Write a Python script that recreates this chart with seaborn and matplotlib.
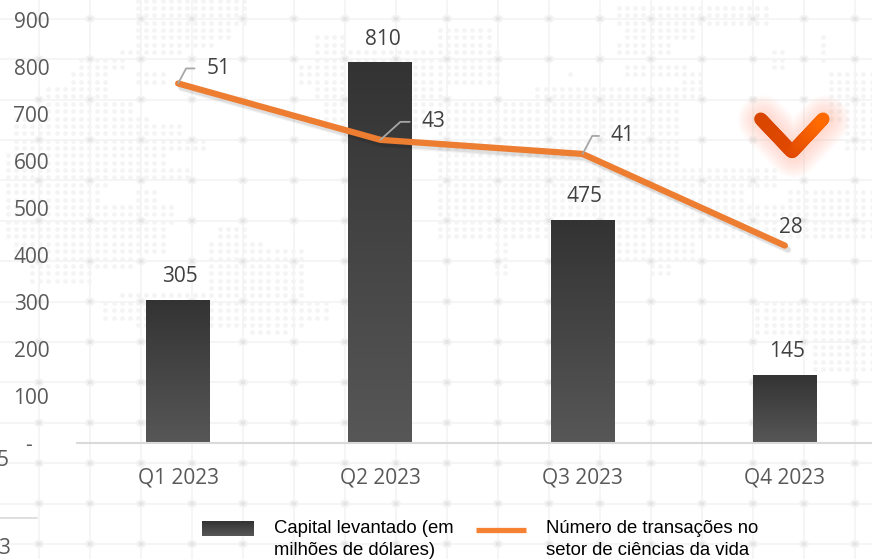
# plot.py  Capital levantado vs numero de transacoes, ciencias da vida 2023

import numpy as np
import pandas as pd
import matplotlib
matplotlib.use('Agg')
import matplotlib.pyplot as plt
import matplotlib.patheffects as pe
from matplotlib.collections import LineCollection
from matplotlib.colors import LinearSegmentedColormap
from matplotlib.lines import Line2D
from matplotlib.patches import Ellipse, Patch
import seaborn as sns

# chart data
quarters = ['Q1 2023', 'Q2 2023', 'Q3 2023', 'Q4 2023']
capital = [305, 810, 475, 145]
deals = [51, 43, 41, 28]
y_ticks = [0, 100, 200, 300, 400, 500, 600, 700, 800, 900]
y_labels = ['-   ', '100', '200', '300', '400', '500', '600', '700', '800', '900']
legend_labels = ['Capital levantado (em\nmilhões de dólares)',
                 'Número de transações no\nsetor de ciências da vida']

# background map, in pixels: x0, x1, y0, y1 blocks of dots
map_blocks = [
    (138, 250, 0, 25), (130, 230, 25, 40), (135, 215, 40, 50), (115, 180, 50, 58),
    (80, 125, 58, 72), (65, 110, 72, 85), (130, 165, 72, 85), (48, 110, 85, 97),
    (130, 145, 97, 102), (48, 135, 102, 112), (15, 150, 112, 125), (15, 180, 125, 140),
    (15, 205, 140, 150), (0, 165, 150, 165), (0, 195, 165, 180), (0, 110, 180, 190),
    (135, 160, 190, 200), (0, 100, 190, 205), (0, 175, 205, 225), (0, 170, 225, 240),
    (10, 165, 240, 255), (25, 130, 255, 270), (25, 90, 270, 285), (215, 250, 225, 240),
    (210, 265, 240, 250), (210, 305, 250, 290), (120, 305, 290, 300), (100, 330, 300, 312),
    (105, 330, 312, 320), (130, 305, 320, 327), (250, 290, 328, 335),
    (315, 345, 35, 45), (310, 440, 45, 60), (300, 440, 60, 85), (315, 440, 85, 100),
    (322, 440, 100, 130), (432, 495, 25, 50), (432, 500, 50, 70), (432, 500, 70, 85),
    (535, 680, 82, 100), (432, 680, 100, 165), (432, 745, 165, 200), (432, 775, 200, 230),
    (432, 820, 200, 225), (432, 850, 228, 240), (615, 700, 240, 262), (650, 670, 262, 275),
    (490, 510, 240, 275), (570, 630, 255, 265), (640, 690, 18, 40), (615, 770, 5, 25),
    (620, 700, 28, 40), (615, 670, 40, 55), (565, 575, 70, 80), (620, 690, 60, 80),
    (680, 705, 70, 100), (740, 780, 170, 185), (790, 872, 190, 240), (785, 872, 228, 240),
    (750, 872, 300, 335), (810, 872, 335, 370), (830, 872, 70, 125), (770, 790, 50, 70),
    (815, 830, 35, 60), (840, 872, 125, 150),
]

sns.set_theme(style='white')
plt.rcParams['font.family'] = ['Open Sans', 'DejaVu Sans']

fig = plt.figure(figsize=(8.72, 5.59), dpi=100)
fig.patch.set_facecolor('white')

# background layer, drawn in pixel coordinates
bg = fig.add_axes([0, 0, 1, 1], zorder=0)
bg.set_xlim(0, 872)
bg.set_ylim(559, 0)
bg.axis('off')

grid_x = np.arange(39, 872, 51)
grid_y = np.arange(18.8, 559, 40.4)
for gx in grid_x:
    bg.axvline(gx, color='#f3f3f3', lw=1.2, zorder=1)
for gy in grid_y:
    bg.axhline(gy, color='#f3f3f3', lw=1.2, zorder=1)
for gx in grid_x:
    for gy in grid_y:
        bg.add_patch(Ellipse((gx, gy), 10, 8, color='#f3f3f3', lw=0, zorder=3))
        bg.add_patch(Ellipse((gx, gy), 5, 4, color='#e4e4e4', lw=0, zorder=3))

lat_x = np.arange(0, 125) * 8.15 - 0.5
lat_y = np.arange(0, 60) * 7.37 + 0.6
dots = set()
for x0, x1, y0, y1 in map_blocks:
    for i, px in enumerate(lat_x):
        for j, py in enumerate(lat_y):
            if x0 <= px <= x1 and y0 <= py <= y1:
                dots.add((i, j))
dots = sorted(dots)
bg.scatter([lat_x[i] for i, j in dots], [lat_y[j] for i, j in dots],
           s=11, color='#f4f4f4', lw=0, zorder=2)

# bars
df = pd.DataFrame({'trimestre': quarters, 'capital': capital, 'transacoes': deals})

ax = fig.add_axes([77 / 872, 116 / 559, 809 / 872, 423 / 559], zorder=1)
ax.patch.set_alpha(0)
sns.barplot(data=df, x='trimestre', y='capital', width=0.316, color='#444444',
            saturation=1, ax=ax)
ax.set_xlim(-0.5, 3.5)
ax.set_ylim(0, 900)

grey_bar = LinearSegmentedColormap.from_list('grey_bar', ['#333333', '#575757'])
gradient = np.linspace(0, 1, 256).reshape(-1, 1)
for bar in ax.containers[0]:
    im = ax.imshow(gradient, cmap=grey_bar, aspect='auto', zorder=2,
                   extent=[bar.get_x(), bar.get_x() + bar.get_width(), 0, bar.get_height()])
    im.set_clip_path(bar)
    bar.set_alpha(0)
ax.set_xlim(-0.5, 3.5)
ax.set_ylim(0, 900)

labels = ax.bar_label(ax.containers[0], padding=9, fontsize=15, color='#404040')
for lab in labels:
    lab.xyann = (1.5, 9)

ax.set_xlabel('')
ax.set_ylabel('')
ax.set_yticks(y_ticks)
ax.set_yticklabels(y_labels, fontsize=15, color='#595959')
ax.tick_params(axis='x', length=0, pad=17.5, labelsize=15, labelcolor='#595959')
ax.tick_params(axis='y', length=0, pad=20)
for side in ['top', 'left', 'right']:
    ax.spines[side].set_visible(False)
ax.spines['bottom'].set_color('#d9d9d9')
ax.spines['bottom'].set_linewidth(1.5)

# line on the hidden second axis
ax2 = ax.twinx()
ax2.set_zorder(ax.get_zorder() + 1)
ax2.patch.set_alpha(0)
sns.lineplot(data=df, x='trimestre', y='transacoes', sort=False, color='#ed7d31',
             lw=4.5, ax=ax2, solid_capstyle='round', solid_joinstyle='round',
             path_effects=[pe.SimpleLineShadow(offset=(2.5, -3.5), shadow_color='black', alpha=0.05),
                           pe.SimpleLineShadow(offset=(2, -2.5), shadow_color='black', alpha=0.08),
                           pe.Normal()])
ax2.set_ylim(0, 60)
ax2.axis('off')

# data labels with leader lines, offsets in pixels
to_pt = 72 / 100
leaders = [(28, 15, 62), (41, 18, 42), (28, 18, 62)]
for i, (dx, dy, ang) in enumerate(leaders):
    ax2.annotate(str(deals[i]), (i, deals[i]), xytext=(dx * to_pt, dy * to_pt),
                 textcoords='offset points', fontsize=15, color='#404040',
                 ha='left', va='center',
                 arrowprops=dict(arrowstyle='-', color='#a6a6a6', lw=1.3, shrinkA=6, shrinkB=0,
                                 relpos=(0, 0.5),
                                 connectionstyle='angle,angleA=0,angleB=%d,rad=0' % ang))
ax2.annotate(str(deals[3]), (3, deals[3]), xytext=(6 * to_pt, 18 * to_pt), textcoords='offset points',
             fontsize=15, color='#404040', ha='center', va='center')

# legend
handles = [Patch(facecolor='#444444', edgecolor='none'),
           Line2D([], [], color='#f58233', lw=3.8, solid_capstyle='butt')]
leg = fig.legend(handles, legend_labels, ncol=2, frameon=False, loc='lower left',
                 bbox_to_anchor=(191.5 / 872, -13 / 559), handlelength=2.7, handletextpad=1.08,
                 columnspacing=1.2, labelspacing=0, borderpad=0.2,
                 prop={'family': 'Liberation Sans', 'size': 13.3})
for t in leg.get_texts():
    t.set_color('black')
    t.set_linespacing(1.42)
# both keys sit level with the first text line
leg_line = leg.legend_handles[1]
leg_line.set_ydata(np.asarray(leg_line.get_ydata()) + 9 * to_pt)

# top layer for swatch gradient, chevron and cut off remains of the slide
top = fig.add_axes([0, 0, 1, 1], zorder=5)
top.set_xlim(0, 872)
top.set_ylim(559, 0)
top.axis('off')

leg.legend_handles[0].set_alpha(0)
top.imshow(np.linspace(0, 1, 64).reshape(-1, 1), cmap=grey_bar, aspect='auto',
           extent=[202, 254, 536, 521], origin='upper')
top.set_xlim(0, 872)
top.set_ylim(559, 0)

chev_x = [760.7, 792, 823]
chev_y = [119, 152, 119]
for w in range(36, 8, -2):
    top.plot([c + 2 for c in chev_x], [c + 1 for c in chev_y], color='#ff6a30', lw=w, alpha=0.014,
             solid_capstyle='round', solid_joinstyle='round')
sx = np.interp(np.linspace(0, 2, 80), [0, 1, 2], chev_x)
sy = np.interp(np.linspace(0, 2, 80), [0, 1, 2], chev_y)
segs = np.stack([np.c_[sx[:-1], sy[:-1]], np.c_[sx[1:], sy[1:]]], axis=1)
chev_cmap = LinearSegmentedColormap.from_list('chev', ['#d84500', '#e04800', '#ff6a00'])
top.add_collection(LineCollection(segs, array=np.linspace(0, 1, 79), cmap=chev_cmap,
                                  linewidths=9.4, capstyle='round'))

top.text(9, 460, '5', fontsize=15, color='#595959', ha='right', va='center')
top.text(10, 548, '3', fontsize=15, color='#595959', ha='right', va='center')
top.plot([0, 37], [518, 518], color='#d9d9d9', lw=1.2)

fig.savefig('out.png', dpi=100)
